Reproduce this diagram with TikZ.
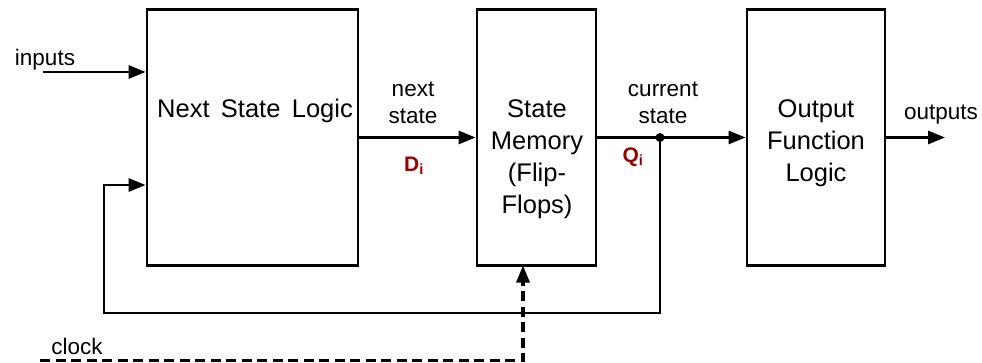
\documentclass[tikz,border=0pt]{standalone}
\usepackage{fontspec}
\setmainfont{Liberation Sans}
\usetikzlibrary{arrows.meta}
\definecolor{sigred}{HTML}{990000}
\begin{document}
\begin{tikzpicture}[x=1pt,y=-1pt,
  blockbox/.style={draw,line width=2.8pt,rectangle,inner sep=0pt,minimum height=256pt},
  blocktext/.style={align=center,font=\fontsize{25.5}{32}\selectfont,inner sep=0pt},
  wiretext/.style={align=center,font=\fontsize{22.5}{27}\selectfont,inner sep=0pt},
  sigtext/.style={text=sigred,font=\fontsize{21}{24}\selectfont\bfseries,inner sep=0pt},
  wire/.style={line width=2.8pt},
  arrowwire/.style={wire,-{Triangle[length=17pt,width=13pt]}},
  clockwire/.style={line width=3.2pt,dash pattern=on 10pt off 5.5pt,-{Triangle[length=17pt,width=13pt]}}
]
\useasboundingbox (0,0) rectangle (982,363);

% blocks
\node[blockbox,minimum width=211pt] (nsl) at (252.5,137.5) {};
\node[blockbox,minimum width=119pt] (mem) at (536.5,137.5) {};
\node[blockbox,minimum width=138pt] (ofl) at (816,137.5) {};

\node[blocktext] (nsltext) at (255,111) {Next\, State\, Logic};
\node[blocktext] (memtext) at (537,159) {State\\Memory\\(Flip-\\Flops)};
\node[blocktext] (ofltext) at (816,143) {Output\\Function\\Logic};

% connection points
\coordinate (inp) at (43,72);
\coordinate (tap) at (660,137.5);
\coordinate (loopr) at (660,313);
\coordinate (loopl) at (104,313);
\coordinate (fb) at (104,185);
\coordinate (clk) at (40,360.5);
\coordinate (clkup) at (523,360.5);
\coordinate (clkin) at (523,265.5);
\coordinate (outp) at (945,137.5);

% signal paths
\draw[arrowwire] (inp) -- (inp -| nsl.west);
\draw[arrowwire] (nsl.east |- tap) -- (mem.west |- tap);
\draw[arrowwire] (mem.east |- tap) -- (ofl.west |- tap);
\draw[arrowwire] (ofl.east |- tap) -- (outp);
\draw[arrowwire] (tap) -- (loopr) -- (loopl) -- (fb) -- (fb -| nsl.west);
\fill (tap) circle (4.5pt);
\draw[clockwire] (clk) -- (clkup) -- (clkin);

% labels
\node[wiretext] (linputs) at (45,60) {inputs};
\node[wiretext] (lnext) at (413,103) {next\\state};
\node[wiretext] (lcur) at (663,103) {current\\state};
\node[wiretext] (lout) at (941,115) {outputs};
\node[wiretext] (lclock) at (77,346) {clock};
\node[sigtext] (ldi) at (414,166) {D\textsubscript{i}};
\node[sigtext] (lqi) at (633,157) {Q\textsubscript{i}};
\end{tikzpicture}
\end{document}
